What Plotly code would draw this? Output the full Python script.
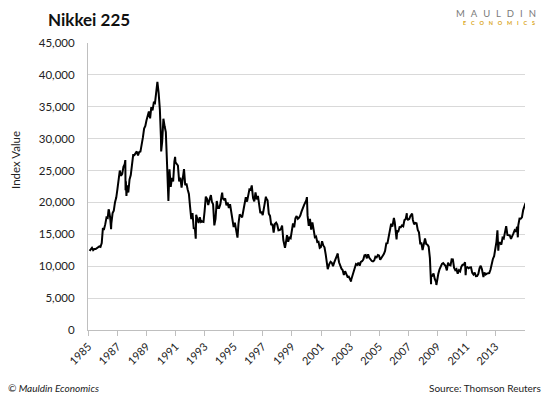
import plotly.graph_objects as go

# Monthly closing values, Apr 1985 .. Apr 2015
start_year, start_month = 1985, 4
monthly_values = [
    12400, 12700, 12880, 12520, 12690, 12700, 12880, 12960, 13110,
    13020, 13640, 15860, 15830, 16600, 17650, 17560, 18790, 17620, 16730, 18320, 18700,
    20050, 20770, 22000, 23270, 25000, 24180, 24490, 25600, 26010, 23330, 22690, 21560,
    23620, 24300, 26260, 27430, 27420, 27770, 28000, 27370, 27920, 27980, 29580, 30160,
    31580, 31990, 32840, 33710, 34270, 33180, 34950, 34430, 35640, 35550, 37270, 38916,
    37190, 34590, 29980, 29580, 33130, 31940, 31040, 25980, 20980, 25190, 22450, 23850,
    23290, 26410, 26290, 26110, 25790, 23290, 23900, 22330, 23920, 25220, 22690, 22980,
    22020, 21340, 19350, 17390, 18350, 15950, 15910, 18060, 17400, 16770, 17690, 16920,
    17020, 16950, 18590, 20920, 20550, 19590, 20380, 21030, 20100, 19700, 16410, 17420,
    20230, 19110, 19110, 19730, 20970, 20640, 20450, 20630, 19560, 19990, 19140, 19720,
    18650, 17050, 16140, 16810, 15440, 14520, 16680, 18120, 17910, 17650, 18740, 19870,
    20810, 20130, 21410, 22040, 21960, 22530, 20690, 20170, 21560, 20470, 21020, 19360,
    18330, 18560, 18000, 19150, 20070, 20600, 20330, 18230, 17890, 16460, 16630, 15260,
    16630, 16830, 16530, 15640, 15670, 15830, 16380, 14110, 13410, 13560, 14880, 13840,
    14500, 14370, 15840, 16700, 16110, 17530, 17860, 17440, 17610, 17940, 18560, 18930,
    19540, 19960, 20340, 17970, 16330, 17410, 15730, 16860, 15750, 14540, 14650, 13790,
    13840, 12880, 13000, 13930, 13260, 12970, 11860, 10710, 9770, 10370, 10700, 10540,
    10000, 10590, 11020, 11490, 11760, 10620, 10000, 9620, 9380, 8640, 9220, 8580,
    8340, 8360, 7970, 7830, 8420, 9080, 9560, 10340, 10220, 10560, 10100, 10680,
    10780, 11040, 11720, 11760, 11240, 11860, 11330, 11080, 10820, 10770, 10900, 11490,
    11390, 11740, 11670, 11010, 11280, 11580, 11900, 12400, 13570, 13610, 14870, 16110,
    16650, 16210, 17060, 16910, 15470, 15510, 15460, 16140, 16130, 16400, 16270, 17230,
    17380, 17600, 17290, 17400, 17880, 18140, 17250, 16570, 16790, 16740, 15680, 15310,
    13590, 13600, 12530, 13850, 14340, 13480, 13380, 13070, 11260, 8580, 8510, 8860,
    7990, 7570, 8110, 8830, 9520, 9960, 10360, 10490, 10130, 10030, 9350, 10550,
    10200, 10130, 11090, 11060, 9770, 9380, 9540, 8820, 9370, 9200, 9940, 10230,
    10240, 10620, 9760, 9850, 9690, 9820, 9830, 8960, 8700, 8990, 8430, 8460,
    8800, 9720, 10080, 9520, 8540, 9010, 8700, 8840, 8870, 8930, 9450, 10400,
    11140, 11560, 12400, 13860, 13770, 13680, 13670, 13390, 14460, 14330, 15660, 16290,
    14910, 14840, 14830, 14300, 14630, 15160, 15620, 15420, 16170, 16410, 17460, 17450,
    17670, 18800, 19210, 19900,
]

# Intra-month extremes visible in the chart
extra_dates = [
    "1986-08-20", "1986-10-21", "1987-10-14", "1987-10-20", "1987-11-11",
    "1990-04-02", "1990-10-01", "1991-03-18", "1992-08-18", "1993-09-03",
    "1994-06-13", "1995-07-03", "1996-06-26", "1997-06-16", "1998-10-09",
    "2000-04-12", "2001-09-17", "2002-05-27", "2003-04-28", "2006-04-07",
    "2006-06-13", "2007-02-26", "2007-07-09", "2008-10-27", "2009-03-10",
    "2011-03-15", "2012-06-04", "2013-05-22", "2013-06-13", "2014-10-17",
]
extra_values = [
    18936, 15820, 26646, 21910, 21036,
    28002, 20222, 27146, 14309, 21148,
    21552, 14485, 22666, 20910, 12880,
    20833, 9550, 12000, 7607, 17563,
    14218, 18300, 18262, 7163, 7055,
    8605, 8296, 15627, 12445, 14532,
]

tick_years = list(range(1985, 2015, 2))

monthly_dates = []
y, m = start_year, start_month
for _ in monthly_values:
    monthly_dates.append(f"{y}-{m:02d}-28")
    m += 1
    if m > 12:
        m, y = 1, y + 1

pairs = sorted(zip(monthly_dates + extra_dates, monthly_values + extra_values))
dates = [p[0] for p in pairs]
values = [p[1] for p in pairs]

# The page places the figure 8px in from the top-left corner of the window,
# so the figure is sized and laid out in window pixels minus that offset.
OFF = 8
W, H = 550 - OFF, 399 - OFF
PL, PT, PR, PB = 88, 43, 525, 330          # plot area in window pixels
L, T = PL - OFF, PT - OFF
R, B = W - (PR - OFF), H - (PB - OFF)
PW, PH = W - L - R, H - T - B


def px(x):
    return (x - OFF - L) / PW


def py(y):
    return (H - B - (y - OFF)) / PH


FONT = "Lato, 'Open Sans', sans-serif"
GAP1 = "\u2002\u2009"
GAP2 = "\u2003\u2009"

fig = go.Figure()
fig.add_trace(go.Scatter(
    x=dates, y=values, mode="lines",
    line=dict(color="#000000", width=2),
    hoverinfo="skip", showlegend=False,
))

fig.update_layout(
    width=W, height=H,
    margin=dict(l=L, r=R, t=T, b=B, autoexpand=False),
    paper_bgcolor="white", plot_bgcolor="white",
    font=dict(family=FONT, size=11, color="#222222"),
    xaxis=dict(
        type="date", automargin=False,
        range=["1985-03-20", "2015-04-15"],
        tickvals=[f"{yr}-04-01" for yr in tick_years],
        ticktext=[str(yr) for yr in tick_years],
        tickangle=-45,
        ticks="outside", ticklen=5, tickcolor="#bfbfbf",
        showgrid=False, showline=True, linecolor="#bfbfbf", linewidth=1,
        tickfont=dict(size=11, color="#222222"),
        zeroline=False,
    ),
    yaxis=dict(
        automargin=False,
        range=[0, 45000],
        tickvals=list(range(0, 45001, 5000)),
        tickformat=",d",
        showgrid=True, gridcolor="#d9d9d9", gridwidth=1,
        showline=True, linecolor="#bfbfbf", linewidth=1,
        ticks="", ticklabelstandoff=10,
        tickfont=dict(size=11.5, color="#222222"),
        zeroline=False,
    ),
    annotations=[
        dict(text="<b>Nikkei 225</b>", x=px(46), y=py(20), xref="paper", yref="paper",
             xanchor="left", yanchor="middle", showarrow=False,
             font=dict(family=FONT, size=17, color="#111111")),
        dict(text="Index Value", x=px(15), y=py(160), xref="paper", yref="paper",
             textangle=-90, xanchor="center", yanchor="middle", showarrow=False,
             font=dict(family=FONT, size=11.5, color="#222222")),
        dict(text=GAP1.join("MAULDIN"),
             x=px(538), y=py(14), xref="paper", yref="paper",
             xanchor="right", yanchor="middle", showarrow=False,
             font=dict(family=FONT, size=9.5, color="#7a7a7a")),
        dict(text="<b>" + GAP2.join("ECONOMICS") + "</b>", x=px(537), y=py(22.5),
             xref="paper", yref="paper",
             xanchor="right", yanchor="middle", showarrow=False,
             font=dict(family=FONT, size=5.5, color="#d9a520")),
        dict(text="<i>© Mauldin Economics</i>", x=px(6), y=py(388), xref="paper", yref="paper",
             xanchor="left", yanchor="middle", showarrow=False,
             font=dict(family=FONT, size=10, color="#222222")),
        dict(text="Source: Thomson Reuters", x=px(543), y=py(388), xref="paper", yref="paper",
             xanchor="right", yanchor="middle", showarrow=False,
             font=dict(family=FONT, size=10, color="#222222")),
    ],
)

fig.write_html("out.html")
